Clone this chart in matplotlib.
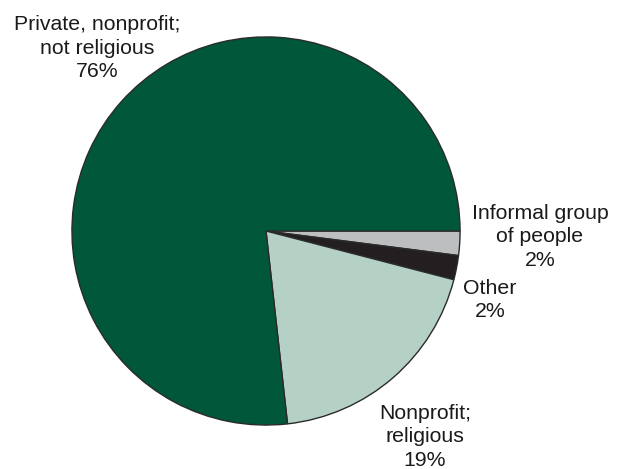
import matplotlib
matplotlib.use("Agg")
import matplotlib.pyplot as plt

labels = ["Informal group\nof people", "Other", "Nonprofit;\nreligious", "Private, nonprofit;\nnot religious"]
values = [2, 2, 19, 76]
colors = ["#BCBEC0", "#231F20", "#B5D1C5", "#00573A"]

W, H = 623, 469
fig = plt.figure(figsize=(W / 100, H / 100), dpi=100)
plt.rcParams['font.family'] = ['Liberation Sans', 'DejaVu Sans']

cx, cy, r = 266, 231, 196
ax = fig.add_axes([(cx - r) / W, (H - cy - r) / H, 2 * r / W, 2 * r / H])
ax.pie(values, colors=colors, startangle=0, counterclock=False, radius=1,
       wedgeprops=dict(edgecolor="#2b2b2b", linewidth=1.0))
ax.set_xlim(-1.01, 1.01)
ax.set_ylim(-1.01, 1.01)
ax.set_aspect("equal")
ax.axis("off")

# label positions (pixel centers of middle line)
label_pos = [(540, 237), (490, 300), (425, 437), (97, 48)]
texts = [f"{lab}\n{v}%" for lab, v in zip(labels, values)]
for t, (x, y) in zip(texts, label_pos):
    fig.text(x / W, 1 - y / H, t, ha="center", va="center", fontsize=15.3,
             linespacing=1.27, color="#1a1a1a")

fig.savefig("out.png", dpi=100)
